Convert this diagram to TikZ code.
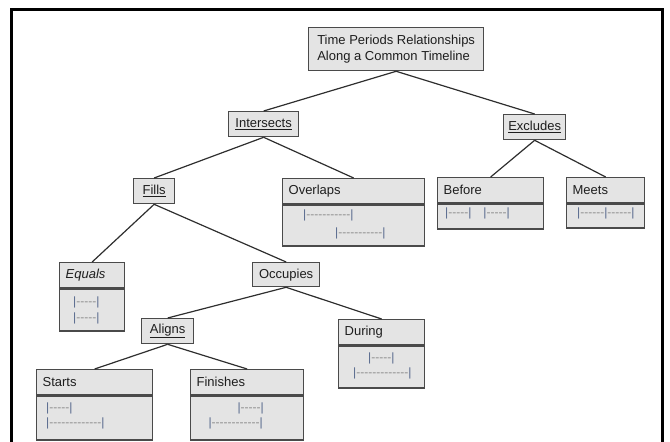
\documentclass[tikz,border=0pt]{standalone}
\usepackage{fontspec}
\setmainfont{Liberation Sans}
\usepackage{xcolor}
\usetikzlibrary{positioning}
\definecolor{clrBox}{HTML}{E4E4E4}
\definecolor{clrEdge}{HTML}{4A4A4A}
\definecolor{clrLink}{HTML}{2E2E2E}
\definecolor{clrBar}{HTML}{55678C}
\definecolor{clrDash}{HTML}{8C8C8C}
\definecolor{clrText}{HTML}{1E1E1E}
\newcommand\ivlbar{\textcolor{clrBar}{|}}
\newcommand\ivldash[1]{\textcolor{clrDash}{\foreach \dd in {1,...,#1}{-\kern0pt}}}
\newcommand\ivl[1]{\ivlbar\ivldash{#1}\ivlbar}

\begin{document}
\begin{tikzpicture}[x=1pt, y=1pt,
    every node/.style={font=\fontsize{13}{16}\selectfont, text=clrText},
    rel/.style={rectangle, draw=clrEdge, fill=clrBox, line width=1.3pt, anchor=north west, inner sep=0pt, align=center},
    relhead/.style={rel, minimum height=25pt, inner xsep=6pt, text width=#1, align=left},
    relbody/.style={rel, minimum height=#1},
    ivltext/.style={font=\fontsize{12}{12}\selectfont, inner sep=0pt, anchor=west},
    link/.style={line width=1.2pt, clrLink},
]
\useasboundingbox (0,0) rectangle (670,-442);

% Frame
\draw[line width=3pt] (11.5,-442) -- (11.5,-9.5) -- (662,-9.5) -- (662,-442);

% Root
\node[rel, minimum width=175pt, minimum height=43pt, align=left] (root) at (308,-27) {Time Periods Relationships\\Along a Common Timeline};

% Second level
\node[rel, minimum width=70pt, minimum height=25pt] (isect) at (228,-111) {\underline{Intersects}};
\node[rel, minimum width=62pt, minimum height=25pt] (excl) at (503,-114) {\underline{Excludes}};

% Third level
\node[rel, minimum width=41pt, minimum height=25pt] (fills) at (133,-178) {\underline{Fills}};
\node[relhead=130pt] (ovl) at (282,-178) {Overlaps};
\node[relbody=41pt, minimum width=142pt] (ovl-b) at (ovl.south west) {};
\node[relhead=94pt] (bef) at (437,-177) {Before};
\node[relbody=25pt, minimum width=106pt] (bef-b) at (bef.south west) {};
\node[relhead=66pt] (meet) at (566,-177) {Meets};
\node[relbody=24pt, minimum width=78pt] (meet-b) at (meet.south west) {};

% Fourth level
\node[relhead=53pt] (eq) at (59,-262) {\textit{Equals}};
\node[relbody=42pt, minimum width=65pt] (eq-b) at (eq.south west) {};
\node[rel, minimum width=67pt, minimum height=24pt] (occ) at (252,-262) {Occupies};

% Fifth level
\node[rel, minimum width=52pt, minimum height=25pt] (algn) at (141,-318) {\underline{Aligns}};
\node[relhead=74pt] (dur) at (338,-319) {During};
\node[relbody=42pt, minimum width=86pt] (dur-b) at (dur.south west) {};

% Sixth level
\node[relhead=104pt] (strt) at (36,-369) {Starts};
\node[relbody=44pt, minimum width=116pt] (strt-b) at (strt.south west) {};
\node[relhead=101pt] (fin) at (190,-369) {Finishes};
\node[relbody=44pt, minimum width=113pt] (fin-b) at (fin.south west) {};

% Intervals
\node[ivltext] (ovl-i1) at (303,-215) {\ivl{11}};
\node[ivltext] (ovl-i2) at (335,-233) {\ivl{11}};
\node[ivltext] (bef-i1) at (445,-213) {\ivl{5}\hspace{12pt}\ivl{5}};
\node[ivltext] (meet-i1) at (577,-213) {\ivlbar\ivldash{6}\ivlbar\ivldash{6}\ivlbar};
\node[ivltext] (eq-i1) at (73,-302) {\ivl{5}};
\node[ivltext] (eq-i2) at (73,-318) {\ivl{5}};
\node[ivltext] (dur-i1) at (368,-358) {\ivl{5}};
\node[ivltext] (dur-i2) at (353,-373) {\ivl{13}};
\node[ivltext] (strt-i1) at (46,-408) {\ivl{5}};
\node[ivltext] (strt-i2) at (46,-423) {\ivl{13}};
\node[ivltext, anchor=east] (fin-i1) at (264,-408) {\ivl{5}};
\node[ivltext, anchor=east] (fin-i2) at (263,-423) {\ivl{12}};

% Links
\draw[link] (root.south) -- (isect.north);
\draw[link] (root.south) -- (excl.north);
\draw[link] (isect.south) -- (fills.north);
\draw[link] (isect.south) -- (ovl.north);
\draw[link] (excl.south) -- (bef.north);
\draw[link] (excl.south) -- (meet.north);
\draw[link] (fills.south) -- (eq.north);
\draw[link] (fills.south) -- (occ.north);
\draw[link] (occ.south) -- (algn.north);
\draw[link] (occ.south) -- (dur.north);
\draw[link] (algn.south) -- (strt.north);
\draw[link] (algn.south) -- (fin.north);

\end{tikzpicture}
\end{document}
